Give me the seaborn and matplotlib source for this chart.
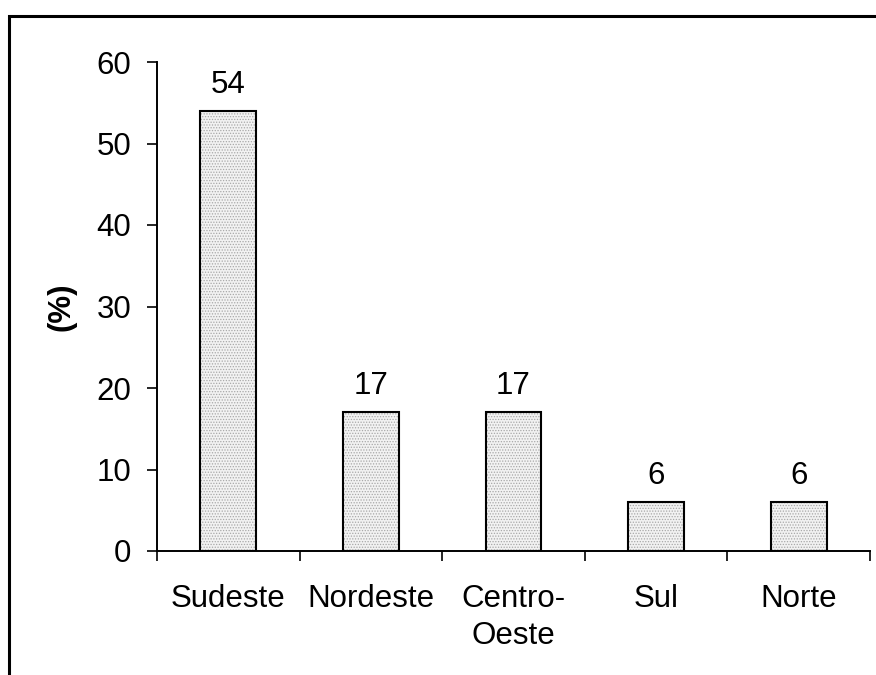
import matplotlib
matplotlib.use("Agg")
import matplotlib.pyplot as plt
from matplotlib.patches import Rectangle
import seaborn as sns
import pandas as pd

regions = ["Sudeste", "Nordeste", "Centro-\nOeste", "Sul", "Norte"]
shares = [54, 17, 17, 6, 6]
y_ticks = [0, 10, 20, 30, 40, 50, 60]

df = pd.DataFrame({"regiao": regions, "pct": shares})

sns.set_theme(style="white")
plt.rcParams["font.family"] = ["Liberation Sans", "DejaVu Sans"]
plt.rcParams["text.color"] = "black"
plt.rcParams["xtick.color"] = "black"
plt.rcParams["ytick.color"] = "black"
plt.rcParams["axes.labelcolor"] = "black"
plt.rcParams["hatch.linewidth"] = 0.6

FS = 22.5

fig = plt.figure(figsize=(8.76, 6.75), dpi=100)
ax = fig.add_axes([157 / 876, 1 - 551 / 675, (870 - 157) / 876, (551 - 62) / 675])

# stippled fill
sns.barplot(data=df, x="regiao", y="pct", ax=ax, width=0.39,
            color="#f2f2f2", edgecolor="#a8a8a8", linewidth=0, hatch="......")
# black outline over the fill
sns.barplot(data=df, x="regiao", y="pct", ax=ax, width=0.39,
            fill=False, edgecolor="black", linewidth=1.5)

for container in ax.containers[1:]:
    ax.bar_label(container, labels=[str(v) for v in shares],
                 padding=8, fontsize=FS, color="black")

ax.set_xlim(-0.5, len(regions) - 0.5)
ax.set_ylim(0, 60)
ax.set_yticks(y_ticks)
ax.set_yticklabels([str(t) for t in y_ticks], fontsize=FS)

# ticks between categories, labels under each bar
n = len(regions)
ax.set_xticks([i - 0.5 for i in range(n + 1)])
ax.set_xticklabels([""] * (n + 1))
ax.set_xticks(range(n), minor=True)
ax.set_xticklabels(regions, minor=True, fontsize=FS, linespacing=1.3)
ax.tick_params(axis="x", which="minor", length=0, pad=24)
ax.tick_params(axis="x", which="major", direction="out", length=7.5,
               width=1.2, color="black", bottom=True)
ax.tick_params(axis="y", direction="out", length=7.5, width=1.2,
               color="black", left=True, pad=11)

ax.set_xlabel("")
ax.set_ylabel("(%)", fontsize=FS, fontweight="bold")
ax.yaxis.set_label_coords(-0.113, 0.5)

for side in ("top", "right"):
    ax.spines[side].set_visible(False)
for side in ("left", "bottom"):
    ax.spines[side].set_color("black")
    ax.spines[side].set_linewidth(1.4)
ax.set_facecolor("white")
fig.patch.set_facecolor("white")

# outer frame around the chart area
fig.patches.append(Rectangle((9 / 876, -0.2), 1.2, 1.2 - 16 / 675,
                             transform=fig.transFigure, fill=False,
                             edgecolor="black", linewidth=2.2))

fig.savefig("out.png", dpi=100)
